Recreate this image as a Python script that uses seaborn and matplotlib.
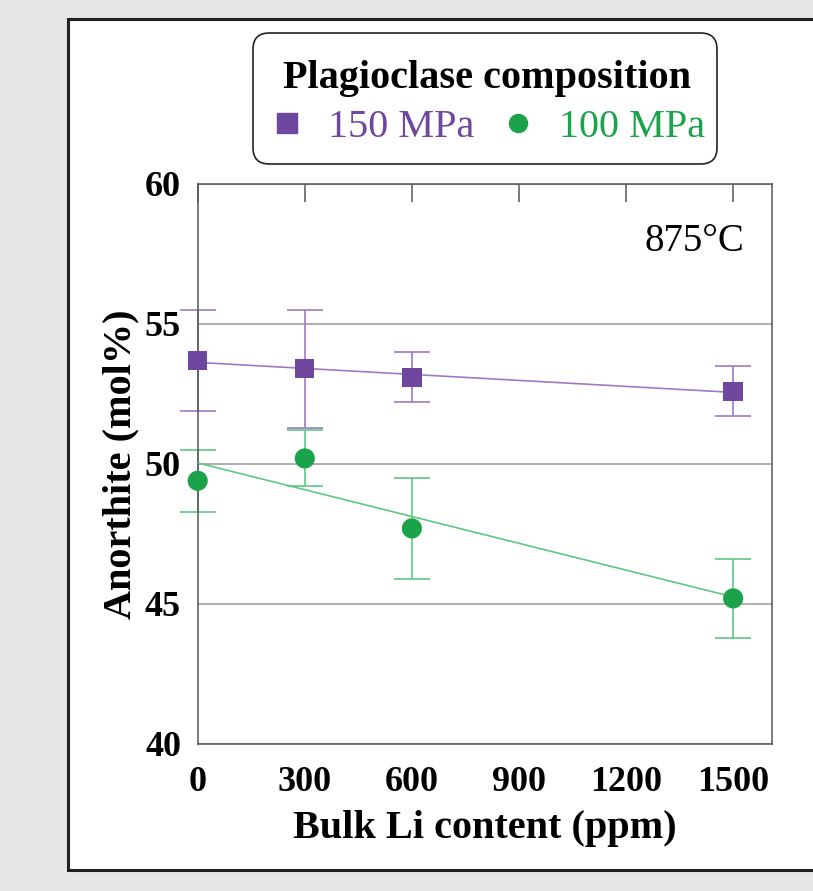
import matplotlib
matplotlib.use("Agg")
import matplotlib.pyplot as plt
import matplotlib.patches as mpatches
from matplotlib.lines import Line2D
import numpy as np
import pandas as pd
import seaborn as sns

# ---- data ----
li_ppm = [0, 300, 600, 1500]
an_150 = [53.7, 53.4, 53.1, 52.6]
err_150 = [1.8, 2.1, 0.9, 0.9]
an_100 = [49.4, 50.2, 47.7, 45.2]
err_100 = [1.1, 1.0, 1.8, 1.4]
series_labels = ["150 MPa", "100 MPa"]
x_ticks = [0, 300, 600, 900, 1200, 1500]
y_ticks = [40, 45, 50, 55, 60]

PURPLE = "#6f479e"
PURPLE_LT = "#9d7bc4"
GREEN = "#1aa34a"
GREEN_LT = "#5fc784"
SERIF = ["Liberation Serif", "DejaVu Serif"]

sns.set_theme(style="white")
plt.rcParams["font.family"] = SERIF
plt.rcParams["text.color"] = "black"
plt.rcParams["axes.labelcolor"] = "black"
plt.rcParams["xtick.labelcolor"] = "black"
plt.rcParams["ytick.labelcolor"] = "black"

df = pd.DataFrame({
    "li": li_ppm * 2,
    "an": an_150 + an_100,
    "err": err_150 + err_100,
    "p": [series_labels[0]] * 4 + [series_labels[1]] * 4,
})

W, H = 813, 891
fig = plt.figure(figsize=(W / 100, H / 100), dpi=100)
fig.patch.set_facecolor("#e5e7e7")
# white card behind the chart
fig.patches.append(mpatches.Rectangle(
    (68 / W, 1 - 870 / H), 1.0, (870 - 19) / H,
    transform=fig.transFigure, facecolor="white", edgecolor="#222222",
    linewidth=2.2, zorder=-10))
# rounded frame of the legend
fig.patches.append(mpatches.FancyBboxPatch(
    (253 / W, 1 - 164 / H), (717 - 253) / W, (164 - 33) / H,
    boxstyle="round,pad=0,rounding_size=0.02", mutation_aspect=W / H,
    transform=fig.transFigure, facecolor="white", edgecolor="#222222",
    linewidth=1.2, zorder=-5))

ax = fig.add_axes([197.7 / W, 1 - 744 / H, 574 / W, 560 / H])
ax.set_facecolor("white")

styles = {
    series_labels[0]: dict(c=PURPLE, lt=PURPLE_LT, m="s"),
    series_labels[1]: dict(c=GREEN, lt=GREEN_LT, m="o"),
}
for lab, st in styles.items():
    sub = df[df["p"] == lab]
    eb = ax.errorbar(sub["li"], sub["an"], yerr=sub["err"], fmt="none",
                     ecolor=st["lt"], elinewidth=1.2, capsize=13, capthick=1.2,
                     zorder=2)
    for art in eb.lines[1] + eb.lines[2]:
        art.set_clip_on(False)
    sns.regplot(data=sub, x="li", y="an", ax=ax, ci=None, scatter=False,
                truncate=True, line_kws=dict(color=st["lt"], lw=1.2, zorder=3))
    sns.scatterplot(data=sub, x="li", y="an", ax=ax, marker=st["m"], color=st["c"],
                    s=195 if st["m"] == "s" else 210, edgecolor="none",
                    legend=False, zorder=4, clip_on=False)

ax.set_xlim(0, 1608)
ax.set_ylim(40, 60)
ax.set_xticks(x_ticks)
ax.set_yticks(y_ticks)
ax.yaxis.grid(True, color="#9a9a9a", lw=1.1)
ax.xaxis.grid(False)
for s in ax.spines.values():
    s.set_color("#555555")
    s.set_linewidth(1.1)
ax.tick_params(direction="in", length=13, width=1.1, color="#555555",
               top=True, right=False, labelsize=26, pad=16)
ax.tick_params(axis="y", length=0, pad=12)
for t in ax.get_xticklabels() + ax.get_yticklabels():
    t.set_fontweight("bold")

ax.set_xlabel("Bulk Li content (ppm)", fontsize=29, fontweight="bold", labelpad=8)
ax.set_ylabel("Anorthite (mol%)", fontsize=29, fontweight="bold", labelpad=4)

ax.text(0.953, 0.93, "875°C", transform=ax.transAxes, ha="right", va="top",
        fontsize=28)

handles = [
    Line2D([], [], ls="none", marker="s", color=PURPLE, markersize=14),
    Line2D([], [], ls="none", marker="o", color=GREEN, markersize=13),
]
leg = ax.legend(handles, series_labels, ncol=2, title="Plagioclase composition",
                loc="center", bbox_to_anchor=(487 / W, 1 - 103 / H),
                bbox_transform=fig.transFigure, prop=dict(size=29),
                title_fontproperties=dict(size=29, weight="bold"),
                labelcolor=[PURPLE, GREEN], frameon=False,
                handletextpad=0.55, columnspacing=0.65, borderpad=0.3,
                handlelength=0.9, labelspacing=0.3)
leg.get_title().set_color("black")

fig.savefig("out.png", dpi=100, facecolor=fig.get_facecolor())
